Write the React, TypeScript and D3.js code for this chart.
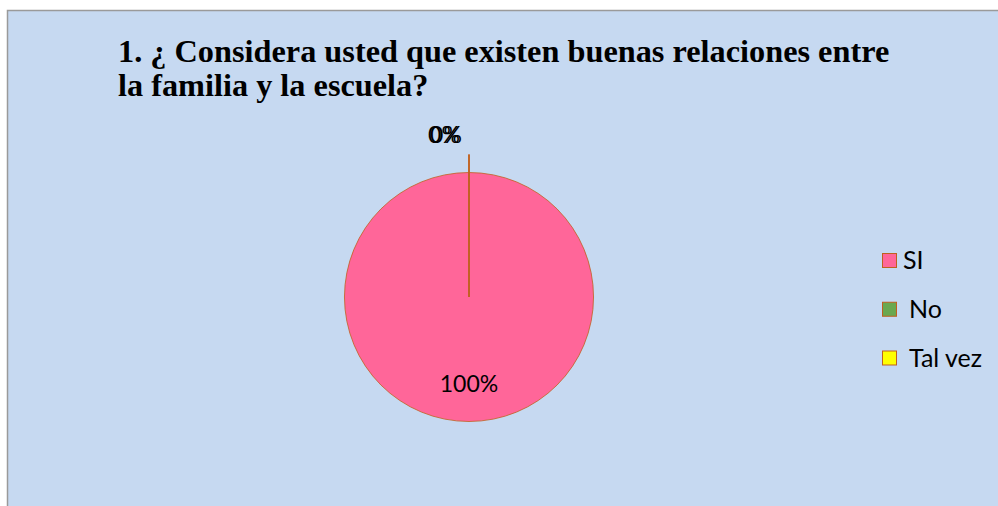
import * as d3 from "d3";

const categories = ["SI", "No", "Tal vez"];
const values = [100, 0, 0];
const colors = ["#FF6699", "#6AA84F", "#FFFF00"];
const title = ["1. ¿ Considera usted que existen buenas relaciones entre", "la familia y la escuela?"];

const W = 998;
const H = 506;
const cx = 469;
const cy = 297;
const r = 124.5;

export default function App() {
  const pie = d3
    .pie<number>()
    .sort(null)
    .value((d) => d);
  const arcs = pie(values);
  const arc = d3.arc<d3.PieArcDatum<number>>().innerRadius(0).outerRadius(r);
  const total = d3.sum(values);
  const pct = (v: number) => d3.format(".0%")(v / total);

  const legendY = d3.scalePoint<string>().domain(categories).range([260.5, 358]);

  return (
    <div style={{ position: "fixed", left: 0, top: 0 }}>
      <svg width={W} height={H} style={{ display: "block" }}>
        <rect x={0} y={0} width={W} height={H} fill="#ffffff" />
        <rect x={7.5} y={10.5} width={W} height={H} fill="#C6D9F1" stroke="#9a9a9a" strokeWidth={1.5} />
        <text fontFamily="Liberation Serif" fontWeight="bold" fontSize={32.3} fill="#000">
          {title.map((t, i) => (
            <tspan key={i} x={118} y={62 + i * 34}>
              {t}
            </tspan>
          ))}
        </text>
        <g transform={`translate(${cx},${cy})`}>
          {arcs.map((a, i) => (
            <path key={i} d={arc(a) || ""} fill={colors[i]} stroke="#C0601E" strokeWidth={a.value === 0 ? 1.5 : 0.8} />
          ))}
          {arcs
            .filter((a) => a.value === 0)
            .map((a, i) => {
              const ang = a.startAngle;
              const x1 = Math.sin(ang) * r;
              const y1 = -Math.cos(ang) * r;
              const x2 = Math.sin(ang) * (r + 18);
              const y2 = -Math.cos(ang) * (r + 18);
              return <line key={"l" + i} x1={x1} y1={y1} x2={x2} y2={y2} stroke="#C0601E" strokeWidth={1.5} />;
            })}
          {arcs
            .filter((a) => a.value === 0)
            .map((a, i) => (
              <text key={"z" + i} x={-25 + i * 2} y={-154} textAnchor="middle" fontFamily="Lato" fontSize={23} fill="#000">
                {pct(a.value)}
              </text>
            ))}
          {arcs
            .filter((a) => a.value > 0)
            .map((a, i) => (
              <text key={"p" + i} x={0} y={95} textAnchor="middle" fontFamily="Lato" fontSize={23} fill="#000">
                {pct(a.value)}
              </text>
            ))}
        </g>
        {categories.map((c, i) => (
          <g key={c} transform={`translate(882,${legendY(c)})`}>
            <rect x={0.5} y={-7} width={14} height={14} fill={colors[i]} stroke="#C0601E" strokeWidth={1} />
            <text x={i === 0 ? 21 : 27} y={8.5} fontFamily="Lato" fontSize={25} fill="#000">
              {c}
            </text>
          </g>
        ))}
      </svg>
    </div>
  );
}
